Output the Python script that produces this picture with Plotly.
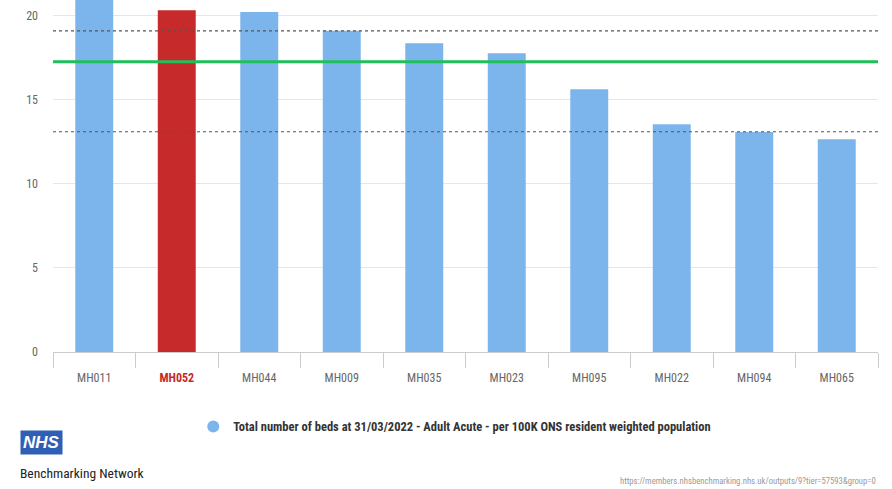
import plotly.graph_objects as go

categories = ["MH011", "MH052", "MH044", "MH009", "MH035", "MH023", "MH095", "MH022", "MH094", "MH065"]
values = [21.6, 20.34, 20.24, 19.12, 18.37, 17.78, 15.64, 13.55, 13.1, 12.66]
highlight = "MH052"
median_value = 17.28
upper_quartile = 19.11
lower_quartile = 13.11
y_ticks = [0, 5, 10, 15, 20]
series_name = "Total number of beds at 31/03/2022 - Adult Acute - per 100K ONS resident weighted population"

BLUE = "#7cb5ec"
RED = "#c62a2a"
FONT = "Liberation Sans Narrow, Arial Narrow, Roboto Condensed, Roboto, sans-serif"

colors = [RED if c == highlight else BLUE for c in categories]
ticktext = [f"<b><span style='color:{RED}'>{c}</span></b>" if c == highlight else c for c in categories]

fig = go.Figure()
fig.add_trace(go.Bar(
    x=categories, y=values, marker=dict(color=colors, line=dict(width=0)),
    width=0.46, showlegend=False, hoverinfo="x+y",
))
# legend entry
fig.add_trace(go.Scatter(
    x=[None], y=[None], mode="markers", name=f"<b>{series_name}</b>",
    marker=dict(symbol="circle", color=BLUE, size=13), showlegend=True,
))

fig.add_hline(y=upper_quartile, line=dict(color="#555555", width=1.2, dash="dot"), layer="above")
fig.add_hline(y=lower_quartile, line=dict(color="#555555", width=1.2, dash="dot"), layer="above")
fig.add_hline(y=median_value, line=dict(color="#1fbf5a", width=3), layer="above")

fig.update_layout(
    width=892, height=489,
    margin=dict(l=53, r=14, t=0, b=137),
    plot_bgcolor="white", paper_bgcolor="white",
    font=dict(family=FONT, color="#666666", size=12),
    bargap=0.54,
    xaxis=dict(
        tickmode="array", tickvals=categories, ticktext=ticktext,
        showgrid=False, showline=True, linecolor="#cccccc", linewidth=1,
        ticks="outside", tickson="boundaries", ticklen=15, tickcolor="#cccccc",
        ticklabelstandoff=15,
        tickfont=dict(size=12, color="#666666", family=FONT),
        range=[-0.5, 9.5],
    ),
    yaxis=dict(
        range=[0, 20.95], tickvals=y_ticks, showgrid=True, gridcolor="#e6e6e6",
        gridwidth=1, zeroline=False, ticks="", ticklabelstandoff=14,
        tickfont=dict(size=12, color="#666666", family=FONT),
    ),
    legend=dict(
        orientation="h", x=0.487, y=-0.213, xanchor="center", yanchor="middle",
        font=dict(size=12.5, color="#333333", family=FONT), itemsizing="constant",
    ),
    showlegend=True,
)

# NHS logo and footer texts
fig.add_annotation(
    xref="paper", yref="paper", x=-0.0395, y=-0.258, xanchor="left", yanchor="middle",
    text="<b><i>NHS</i></b>", showarrow=False, bgcolor="#2f5fb5", borderpad=2,
    font=dict(family="Liberation Sans, Arial, sans-serif", size=17, color="white"),
)
fig.add_annotation(
    xref="paper", yref="paper", x=-0.042, y=-0.345, xanchor="left", yanchor="middle",
    text="Benchmarking Network", showarrow=False,
    font=dict(family=FONT, size=13.5, color="#222222"),
)
fig.add_annotation(
    xref="paper", yref="paper", x=1.0, y=-0.367, xanchor="right", yanchor="middle",
    text="https://members.nhsbenchmarking.nhs.uk/outputs/9?tier=57593&group=0", showarrow=False,
    font=dict(family=FONT, size=8.7, color="#999999"),
)

fig.write_html("out.html")
